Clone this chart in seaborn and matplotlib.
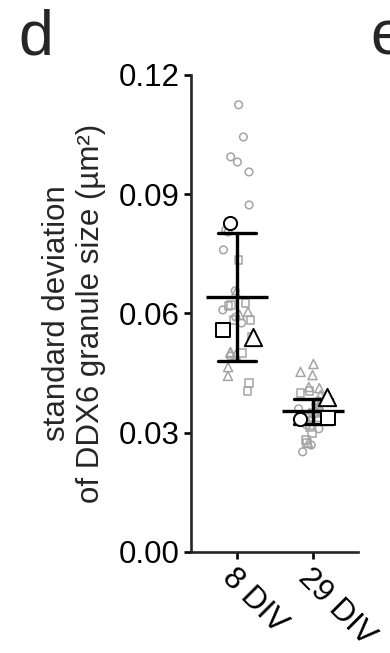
import matplotlib
matplotlib.use('Agg')
import matplotlib.pyplot as plt
import numpy as np
import pandas as pd
import seaborn as sns

groups = ['8 DIV', '29 DIV']
replicates = ['circle', 'square', 'triangle']

# single cells, one list per culture (replicate) and age
div8_circle = [0.1125, 0.1044, 0.0994, 0.0981, 0.0956, 0.0873, 0.0810, 0.0805,
               0.0760, 0.0657, 0.0609, 0.0591, 0.0576, 0.0493]
div8_square = [0.0735, 0.0626, 0.0621, 0.0619, 0.0584, 0.0584, 0.0541, 0.0501,
               0.0425, 0.0405]
div8_triangle = [0.0652, 0.0604, 0.0596, 0.0503, 0.0501, 0.0496, 0.0465, 0.0443]
div29_circle = [0.0380, 0.0370, 0.0360, 0.0350, 0.0340, 0.0330, 0.0320, 0.0310,
                0.0269, 0.0252]
div29_square = [0.0405, 0.0400, 0.0360, 0.0350, 0.0340, 0.0330, 0.0314, 0.0300,
                0.0282, 0.0274]
div29_triangle = [0.0473, 0.0453, 0.0445, 0.0415, 0.0412, 0.0395, 0.0370, 0.0362,
                  0.0350, 0.0340, 0.0274]

# replicate means (large open symbols), [8 DIV, 29 DIV]
rep_circle = [0.0828, 0.0335]
rep_square = [0.0558, 0.0337]
rep_triangle = [0.0541, 0.0390]

yticks = [0.00, 0.03, 0.06, 0.09, 0.12]
ytick_labels = ['0.00', '0.03', '0.06', '0.09', '0.12']

# long tables
cell_lists = {
    ('8 DIV', 'circle'): div8_circle, ('8 DIV', 'square'): div8_square,
    ('8 DIV', 'triangle'): div8_triangle, ('29 DIV', 'circle'): div29_circle,
    ('29 DIV', 'square'): div29_square, ('29 DIV', 'triangle'): div29_triangle,
}
rows = []
for (g, r), vals in cell_lists.items():
    rows += [{'group': g, 'replicate': r, 'value': v} for v in vals]
cells = pd.DataFrame(rows)

rep_lists = {'circle': rep_circle, 'square': rep_square, 'triangle': rep_triangle}
means = pd.DataFrame([{'group': g, 'replicate': r, 'value': vals[i]}
                      for r, vals in rep_lists.items() for i, g in enumerate(groups)])

sns.set_style('ticks')
plt.rcParams['font.family'] = ['Liberation Sans', 'DejaVu Sans']

fig = plt.figure(figsize=(3.9, 6.53), dpi=100)
ax = fig.add_axes([0.49, 0.1547, 0.428, 0.7305])

# small grey open symbols, jittered
np.random.seed(3)
small_style = {'circle': ('o', 5.5), 'square': ('s', 5.5), 'triangle': ('^', 6.5)}
for r in replicates:
    marker, size = small_style[r]
    sns.stripplot(data=cells[cells['replicate'] == r], x='group', y='value',
                  order=groups, marker=marker, size=size, facecolor='none',
                  edgecolor='#a4a4a4', linewidth=1.1, jitter=0.2, ax=ax, zorder=2)

# mean +/- SD of replicate means
sns.pointplot(data=means, x='group', y='value', order=groups, errorbar='sd',
              capsize=0.5, color='black', marker='_', markersize=44,
              markeredgewidth=2.4, linestyle='none',
              err_kws={'linewidth': 2.4, 'zorder': 4}, zorder=4, ax=ax)

# large open symbols for replicate means
offsets = {'circle': [-0.09, -0.17], 'square': [-0.18, 0.20], 'triangle': [0.21, 0.18]}
big_style = {'circle': ('o', 90), 'square': ('s', 90), 'triangle': ('^', 155)}
for r in replicates:
    marker, s = big_style[r]
    ax.scatter(np.arange(len(groups)) + np.array(offsets[r]), rep_lists[r],
               marker=marker, s=s, facecolor='white', edgecolor='black',
               linewidth=1.4, zorder=5)

ax.set_xlim(-0.605, 1.592)
ax.set_ylim(0, 0.12)
ax.set_yticks(yticks)
ax.set_yticklabels(ytick_labels, fontsize=22.5)
ax.set_xticks(range(len(groups)))
ax.set_xticklabels(groups, fontsize=22.5, rotation=-45, ha='left', va='top',
                   rotation_mode='anchor')
ax.set_xlabel('')
ax.set_ylabel('standard deviation\nof DDX6 granule size (µm²)', fontsize=22.5,
              linespacing=1.2, labelpad=9)
sns.despine(ax=ax)
for side in ['left', 'bottom']:
    ax.spines[side].set_linewidth(1.9)
ax.tick_params(width=1.9, length=5, pad=3, colors='black')

fig.text(18 / 390, 0.916, 'd', fontsize=45, va='baseline')
fig.text(370 / 390, 0.916, 'e', fontsize=45, va='baseline')

fig.savefig('out.png', dpi=100)
